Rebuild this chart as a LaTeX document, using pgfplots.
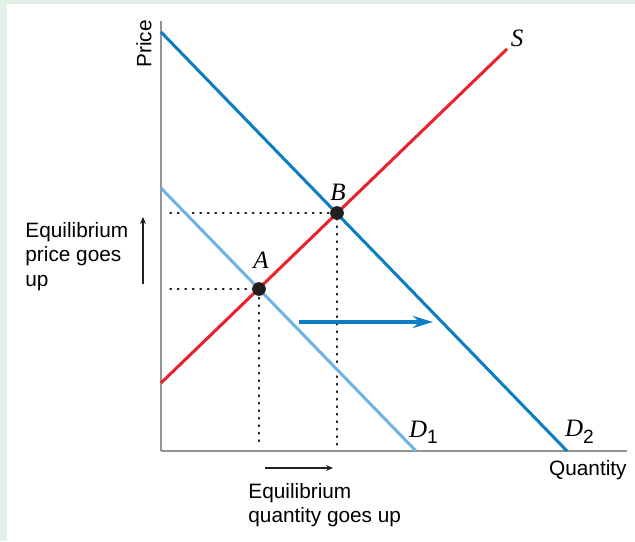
\documentclass[border=0pt]{standalone}
\usepackage{pgfplots}
\pgfplotsset{compat=1.18}
\usepackage{fontspec}
\setmainfont{Liberation Sans}
\newfontfamily\tms{Liberation Serif}
\usetikzlibrary{arrows.meta}

\definecolor{dtwo}{HTML}{0B7DC3}
\definecolor{done}{HTML}{6DB3E3}
\definecolor{supply}{HTML}{E8212B}
\definecolor{axisgray}{HTML}{929497}
\definecolor{panel}{HTML}{E2F1E7}
\definecolor{ink}{HTML}{231F20}

\newcommand{\lbl}[1]{{\fontsize{12.5}{14}\selectfont\tms\itshape #1}}
\newcommand{\sub}[1]{{\fontsize{9.6}{11}\selectfont #1}}

\begin{document}
\begin{tikzpicture}[x=0.5pt,y=0.5pt]
  % panel: green strip on the left and top, white elsewhere
  \fill[panel] (-161,-90) rectangle (474,451);
  \fill[white] (-154,-90) rectangle (474,447);
  \begin{axis}[
      at={(0,0)}, anchor=south west,
      x=0.5pt, y=0.5pt,
      xmin=0, xmax=466, ymin=0, ymax=430,
      axis lines=left,
      axis line style={-, draw=axisgray, line width=1pt},
      xtick=\empty, ytick=\empty,
      clip=false,
      font=\fontsize{10.4}{12.2}\selectfont,
    ]
    % guide lines to the equilibria
    \addplot[ink, line width=0.7pt, dash pattern=on 0.7pt off 3.05pt, line cap=round]
      coordinates {(9,162) (98,162) (98,5)};
    \addplot[ink, line width=0.7pt, dash pattern=on 0.7pt off 3.05pt, line cap=round]
      coordinates {(9,238) (176,238) (176,5)};
    % curves
    \addplot[done, line width=1.5pt] coordinates {(0,263) (255,0)};
    \addplot[dtwo, line width=1.5pt] coordinates {(0,419) (406,0)};
    \addplot[supply, line width=1.5pt] coordinates {(0,68) (346,402)};
    % shift of demand
    \addplot[dtwo, line width=2pt, -{Stealth[length=10pt,width=6pt]}]
      coordinates {(138,129) (272,129)};
    % equilibria
    \addplot[only marks, mark=*, mark size=3.2pt, ink] coordinates {(98,162) (176,238)};
    % small arrows
    \addplot[ink, line width=0.6pt, -{Stealth[length=3.5pt,width=3pt]}]
      coordinates {(-18,167) (-18,234)};
    \addplot[ink, line width=0.6pt, -{Stealth[length=3.5pt,width=3pt]}]
      coordinates {(104,-17) (172,-17)};
    % labels
    \node at (356,413) {\lbl{S}};
    \node at (177,259) {\lbl{B}};
    \node at (100,191) {\lbl{A}};
    \node at (263,19) {\lbl{D}\sub{$_{\textrm{\sub{1}}}$}};
    \node at (419,19) {\lbl{D}\sub{$_{\textrm{\sub{2}}}$}};
    \node[anchor=east, inner sep=0pt] at (466,-19) {Quantity};
    \node[rotate=90, anchor=east, inner sep=0pt] at (-17,431) {Price};
    \node[anchor=north west, align=left, inner sep=0pt] at (-136,229)
      {Equilibrium\\price goes\\up};
    \node[anchor=north west, align=left, inner sep=0pt] at (87,-32)
      {Equilibrium\\quantity goes up};
  \end{axis}
\end{tikzpicture}
\end{document}
